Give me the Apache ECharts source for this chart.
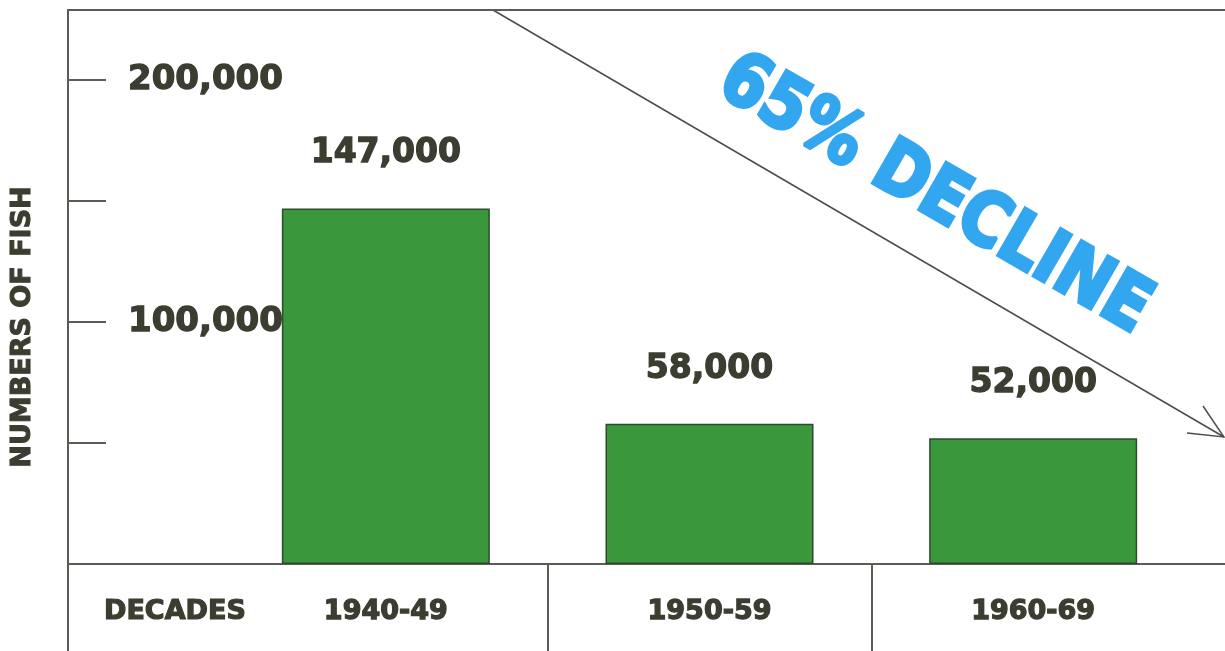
<!DOCTYPE html>
<html><head><meta charset="utf-8">
<script src="https://cdn.jsdelivr.net/npm/echarts@6/dist/echarts.min.js"></script>
<style>html,body{margin:0;padding:0;background:#fff}#c{width:1225px;height:651px}</style>
</head><body><div id="c"></div>
<script>
// ---- data ----
const categories = ['1940-49', '1950-59', '1960-69'];
const fishCounts = [147000, 58000, 52000];
const yLabelledTicks = [100000, 200000];
const yMax = 229000;
const yInterval = 50000;
const yAxisTitle = 'NUMBERS OF FISH';
const xAxisTitle = 'DECADES';
const annotation = '65% DECLINE';

// ---- style ----
const FONT = 'DejaVu Sans';
const INK = '#3b3d31';
const LINE = '#5c5c56';
const BLUE = '#33a6f0';
const fmt = v => String(v).replace(/\B(?=(\d{3})+(?!\d))/g, ',');
const heavy = { color: INK, fontFamily: FONT, fontWeight: 'bold', textBorderColor: INK, textBorderWidth: 1.3 };

const chart = echarts.init(document.getElementById('c'), null, { renderer: 'canvas' });
chart.setOption({
  backgroundColor: '#fff',
  animation: false,
  grid: [
    { left: 68, right: 0, top: 10, bottom: 87 },
    { left: 224, right: 30, top: 10, bottom: 87 },
    { left: 224, right: 30, top: 564, bottom: 0 }
  ],
  xAxis: [
    { gridIndex: 0, type: 'value', min: 0, max: 1, position: 'bottom',
      axisLine: { show: true, onZero: false, lineStyle: { color: LINE, width: 2 } },
      axisTick: { show: false }, axisLabel: { show: false }, splitLine: { show: false } },
    { gridIndex: 0, type: 'value', min: 0, max: 1, position: 'top',
      axisLine: { show: true, onZero: false, lineStyle: { color: LINE, width: 2 } },
      axisTick: { show: false }, axisLabel: { show: false }, splitLine: { show: false } },
    { gridIndex: 1, type: 'category', data: categories,
      axisLine: { show: false }, axisTick: { show: false },
      axisLabel: Object.assign({ show: true, interval: 0, margin: 34, fontSize: 27 }, heavy) },
    { gridIndex: 2, type: 'category', data: categories,
      axisLine: { show: false }, axisTick: { show: false }, axisLabel: { show: false },
      splitLine: { show: true, showMinLine: false, showMaxLine: false, lineStyle: { color: LINE, width: 2 } } }
  ],
  yAxis: [
    { gridIndex: 0, type: 'value', min: 0, max: yMax, interval: yInterval,
      axisLine: { show: true, lineStyle: { color: LINE, width: 2 } },
      axisTick: { show: true, inside: true, length: 38, lineStyle: { color: LINE, width: 2 } },
      axisLabel: Object.assign({ inside: true, margin: 60, fontSize: 34,
        formatter: v => yLabelledTicks.includes(v) ? fmt(v) : '' }, heavy),
      splitLine: { show: false } },
    { gridIndex: 1, type: 'value', min: 0, max: yMax, show: false },
    { gridIndex: 2, type: 'value', min: 0, max: 1, offset: 156,
      axisLine: { show: true, lineStyle: { color: LINE, width: 2 } },
      axisTick: { show: false }, axisLabel: { show: false }, splitLine: { show: false } }
  ],
  series: [{
    type: 'bar', xAxisIndex: 2, yAxisIndex: 1, data: fishCounts, barWidth: 208,
    itemStyle: { color: '#3b973b', borderColor: '#2f4a2f', borderWidth: 1.5 },
    label: Object.assign({ show: true, position: 'top', distance: 38, formatter: p => fmt(p.value), fontSize: 33 }, heavy)
  }],
  graphic: [
    { type: 'text', x: 23, y: 327, rotation: Math.PI / 2,
      style: { text: yAxisTitle, fill: INK, stroke: INK, lineWidth: 1.1, font: 'bold 27px "DejaVu Sans"', align: 'center', verticalAlign: 'middle' } },
    { type: 'text', x: 104, y: 612,
      style: { text: xAxisTitle, fill: INK, stroke: INK, lineWidth: 1.2, font: 'bold 27px "DejaVu Sans"', align: 'left', verticalAlign: 'middle' } },
    { type: 'line', shape: { x1: 493, y1: 10, x2: 1224, y2: 437 },
      style: { stroke: '#4d4d48', lineWidth: 1.5 } },
    { type: 'polyline', shape: { points: [[1187, 433], [1224, 437], [1203, 406]] },
      style: { stroke: '#4d4d48', lineWidth: 1.5, fill: null } },
    { type: 'text', x: 934, y: 196, rotation: -Math.PI / 6, scaleX: 0.87,
      style: { text: annotation, fill: BLUE, stroke: BLUE, lineWidth: 4, lineJoin: 'miter', font: 'bold 74px "DejaVu Sans"', align: 'center', verticalAlign: 'middle' } }
  ]
});
</script>
</body></html>
